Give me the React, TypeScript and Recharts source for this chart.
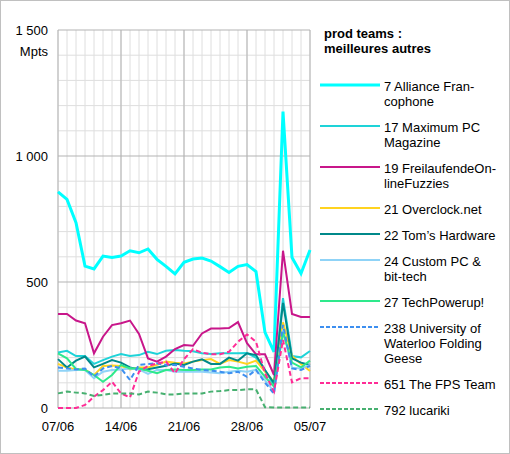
import { Line, LineChart, ReferenceLine, XAxis, YAxis } from 'recharts';

const dates = [
  '07/06', '08/06', '09/06', '10/06', '11/06', '12/06', '13/06', '14/06', '15/06', '16/06',
  '17/06', '18/06', '19/06', '20/06', '21/06', '22/06', '23/06', '24/06', '25/06', '26/06',
  '27/06', '28/06', '29/06', '30/06', '01/07', '02/07', '03/07', '04/07', '05/07',
];
const dateTicks = ['07/06', '14/06', '21/06', '28/06', '05/07'];
const valueTicks = [0, 500, 1000, 1500];
const minorValues = [100, 200, 300, 400, 600, 700, 800, 900, 1100, 1200, 1300, 1400];

const alliance = [858, 828, 735, 563, 552, 603, 597, 603, 624, 616, 631, 590, 562, 532, 578, 591, 595, 583, 561, 538, 562, 569, 541, 300, 223, 1176, 597, 534, 627];
const maximumPc = [220, 227, 206, 206, 175, 190, 204, 214, 206, 210, 223, 214, 227, 230, 227, 225, 217, 214, 217, 217, 217, 218, 200, 150, 90, 436, 206, 201, 226];
const freilaufende = [373, 373, 347, 336, 217, 283, 329, 336, 347, 294, 197, 184, 204, 234, 250, 247, 296, 315, 315, 317, 341, 257, 213, 213, 131, 624, 373, 361, 361];
const overclock = [175, 161, 153, 153, 130, 167, 169, 167, 153, 161, 161, 171, 184, 180, 177, 184, 190, 194, 175, 190, 184, 175, 188, 144, 104, 340, 206, 175, 147];
const toms = [194, 161, 188, 204, 161, 175, 190, 180, 161, 153, 154, 161, 168, 177, 171, 184, 193, 175, 175, 200, 188, 217, 210, 151, 98, 417, 197, 180, 171];
const customPc = [148, 148, 151, 151, 118, 144, 151, 153, 157, 153, 135, 151, 151, 144, 144, 144, 144, 141, 138, 144, 148, 144, 151, 111, 65, 310, 160, 157, 171];
const techPowerup = [217, 197, 155, 151, 131, 104, 131, 171, 157, 157, 148, 138, 151, 153, 151, 151, 153, 153, 161, 164, 157, 164, 167, 124, 85, 300, 180, 161, 188];
const waterloo = [161, 157, 153, 157, 124, 157, 167, 157, 111, 171, 175, 177, 171, 171, 164, 157, 151, 148, 144, 138, 144, 124, 151, 101, 56, 330, 157, 151, 167];
const fpsTeam = [0, 0, 0, 12, 45, 71, 104, 58, 42, 144, 167, 177, 184, 138, 194, 233, 220, 213, 213, 223, 263, 292, 263, 138, 65, 270, 102, 118, 118];
const lucariki = [58, 65, 61, 58, 48, 52, 58, 58, 58, 54, 65, 61, 54, 54, 58, 58, 58, 65, 67, 71, 71, 74, 74, 3, 2, 2, 2, 2, 2];

const series = [
  { key: 'alliance', values: alliance, label: ['7 Alliance Fran-', 'cophone'], color: '#00ffff', width: 3, dashed: false },
  { key: 'maximumPc', values: maximumPc, label: ['17 Maximum PC', 'Magazine'], color: '#1ed3d8', width: 2, dashed: false },
  { key: 'freilaufende', values: freilaufende, label: ['19 FreilaufendeOn-', 'lineFuzzies'], color: '#c8168a', width: 2, dashed: false },
  { key: 'overclock', values: overclock, label: ['21 Overclock.net'], color: '#ffd320', width: 2, dashed: false },
  { key: 'toms', values: toms, label: ['22 Tom\u2019s Hardware'], color: '#00898a', width: 2, dashed: false },
  { key: 'customPc', values: customPc, label: ['24 Custom PC &', 'bit-tech'], color: '#8fd3f7', width: 2, dashed: false },
  { key: 'techPowerup', values: techPowerup, label: ['27 TechPowerup!'], color: '#2ee98c', width: 2, dashed: false },
  { key: 'waterloo', values: waterloo, label: ['238 University of', 'Waterloo Folding', 'Geese'], color: '#3d8ff0', width: 2, dashed: true },
  { key: 'fpsTeam', values: fpsTeam, label: ['651 The FPS Team'], color: '#ff2c96', width: 2, dashed: true },
  { key: 'lucariki', values: lucariki, label: ['792 lucariki'], color: '#47b070', width: 2, dashed: true },
];

const data = dates.map((date, i) => {
  const row: Record<string, string | number> = { date };
  series.forEach((s) => {
    row[s.key] = s.values[i];
  });
  return row;
});

const FONT = '"Liberation Sans", Arial, sans-serif';

const formatValue = (v: number) =>
  v >= 1000 ? `${Math.floor(v / 1000)} ${String(v % 1000).padStart(3, '0')}` : String(v);

function ValueTick({ x, y, payload }: any) {
  return (
    <g>
      <text x={x} y={y} dy="0.355em" textAnchor="end" fontSize={13} fontFamily={FONT} fill="#000">
        {formatValue(payload.value)}
      </text>
      {payload.value === 1500 && (
        <text x={x} y={y + 21} dy="0.355em" textAnchor="end" fontSize={13} fontFamily={FONT} fill="#000">
          Mpts
        </text>
      )}
    </g>
  );
}

function ChartLegend() {
  return (
    <>
      <div
        style={{
          position: 'absolute',
          left: 323,
          top: 25,
          fontFamily: FONT,
          fontSize: 13,
          fontWeight: 'bold',
          lineHeight: '15px',
          color: '#000',
        }}
      >
        prod teams :<br />
        meilleures autres
      </div>
      <div style={{ position: 'absolute', left: 319, top: 78, fontFamily: FONT, fontSize: 13, color: '#000' }}>
        {series.map((s) => (
          <div key={s.key} style={{ display: 'flex', alignItems: 'flex-start', marginBottom: 11 }}>
            <svg width={60} height={15} style={{ flex: 'none' }}>
              <line
                x1={0}
                x2={60}
                y1={6}
                y2={6}
                stroke={s.color}
                strokeWidth={s.width}
                strokeDasharray={s.dashed ? '4 2' : undefined}
              />
            </svg>
            <div style={{ marginLeft: 4, lineHeight: '15px' }}>
              {s.label.map((t) => (
                <div key={t}>{t}</div>
              ))}
            </div>
          </div>
        ))}
      </div>
    </>
  );
}

export default function App() {
  return (
    <div
      style={{
        position: 'absolute',
        left: 0,
        top: 0,
        width: 510,
        height: 454,
        boxSizing: 'border-box',
        border: '1px solid #c0c0c0',
        background: '#fff',
      }}
    >
      <div style={{ position: 'absolute', left: -1, top: -1 }}>
        <LineChart width={510} height={454} data={data} margin={{ top: 30, right: 200, bottom: 16, left: 0 }}>
          <XAxis
            dataKey="date"
            ticks={dateTicks}
            interval={0}
            axisLine={false}
            tickLine={false}
            tickMargin={8}
            height={30}
            tick={{ fontSize: 13, fontFamily: FONT, fill: '#000' }}
          />
          <YAxis
            type="number"
            domain={[0, 1500]}
            ticks={valueTicks}
            interval={0}
            axisLine={false}
            tickLine={false}
            tickMargin={4}
            width={58}
            tick={<ValueTick />}
          />
          {dates.map((d) => (
            <ReferenceLine key={`vx-${d}`} x={d} stroke="#dedede" strokeWidth={1} />
          ))}
          {minorValues.map((v) => (
            <ReferenceLine key={`hy-${v}`} y={v} stroke="#dedede" strokeWidth={1} />
          ))}
          {dateTicks.map((d) => (
            <ReferenceLine key={`vX-${d}`} x={d} stroke="#b3b3b3" strokeWidth={1} />
          ))}
          {valueTicks.map((v) => (
            <ReferenceLine key={`hY-${v}`} y={v} stroke="#b3b3b3" strokeWidth={1} />
          ))}
          {series.map((s) => (
            <Line
              key={s.key}
              type="linear"
              dataKey={s.key}
              stroke={s.color}
              strokeWidth={s.width}
              strokeDasharray={s.dashed ? '5 3' : undefined}
              dot={false}
              activeDot={false}
              isAnimationActive={false}
            />
          ))}
        </LineChart>
      </div>
      <ChartLegend />
    </div>
  );
}
